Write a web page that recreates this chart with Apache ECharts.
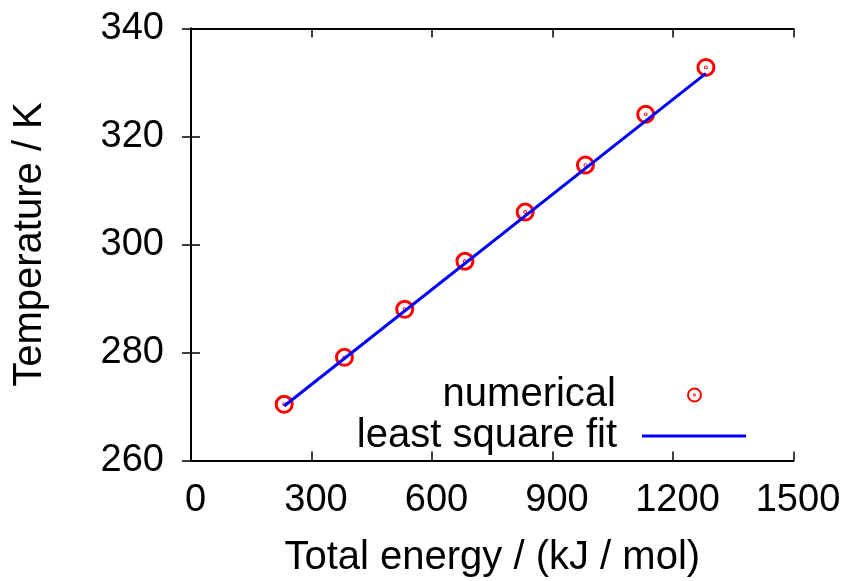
<!DOCTYPE html>
<html>
<head>
<meta charset="utf-8">
<script src="https://cdn.jsdelivr.net/npm/echarts@6/dist/echarts.min.js"></script>
<style>
  html, body { margin: 0; padding: 0; background: #fff; }
  #chart { width: 846px; height: 581px; }
</style>
</head>
<body>
<div id="chart"></div>
<script>
// Total energy (kJ/mol) and resulting temperature (K)
const energy = [232, 382, 532, 682, 832, 982, 1132, 1282];
const temperature = [270.4, 279.1, 288.0, 296.9, 306.0, 314.7, 324.1, 332.8];

// End points of the least square fit line
const fitEnergy = [232, 1282];
const fitTemperature = [270.1, 331.7];

const xTicks = { min: 0, max: 1500, interval: 300 };
const yTicks = { min: 260, max: 340, interval: 20 };

const FONT = 'Liberation Sans, Arial, Helvetica, sans-serif';
const TICK_SIZE = 38;
const TEXT_SIZE = 40;

// open circle with a centre dot
const ringDot = 'path://M20,10A10,10,0,1,1,0,10A10,10,0,1,1,20,10ZM10.6,10A0.6,0.6,0,1,1,9.4,10A0.6,0.6,0,1,1,10.6,10Z';

const pointData = energy.map((e, i) => [e, temperature[i]]);
const fitData = fitEnergy.map((e, i) => [e, fitTemperature[i]]);

const frameLine = { show: true, lineStyle: { color: '#000', width: 2 } };
const innerTick = { show: true, inside: true, length: 9, lineStyle: { color: '#000', width: 1.5 } };
const plainNumber = v => String(v);

const chart = echarts.init(document.getElementById('chart'), null, { renderer: 'canvas' });

chart.setOption({
  animation: false,
  backgroundColor: '#fff',
  textStyle: { fontFamily: FONT },
  grid: {
    left: 191, right: 52.5, top: 28.5, bottom: 120.5,
    containLabel: false, outerBoundsMode: 'none'
  },
  xAxis: [
    {
      type: 'value', position: 'bottom',
      min: xTicks.min, max: xTicks.max, interval: xTicks.interval,
      name: 'Total energy / (kJ / mol)', nameLocation: 'middle', nameGap: 77,
      nameTextStyle: { fontFamily: FONT, fontSize: TEXT_SIZE, color: '#000' },
      axisLine: frameLine, axisTick: innerTick, splitLine: { show: false },
      axisLabel: {
        fontFamily: FONT, fontSize: TICK_SIZE, color: '#000', margin: 21,
        padding: [0, 0, 0, 9], formatter: plainNumber
      }
    },
    {
      type: 'value', position: 'top',
      min: xTicks.min, max: xTicks.max, interval: xTicks.interval,
      axisLine: frameLine, axisTick: innerTick, splitLine: { show: false },
      axisLabel: { show: false }
    }
  ],
  yAxis: [
    {
      type: 'value', position: 'left',
      min: yTicks.min, max: yTicks.max, interval: yTicks.interval,
      name: 'Temperature / K', nameLocation: 'middle', nameGap: 141,
      nameTextStyle: { fontFamily: FONT, fontSize: TEXT_SIZE, color: '#000' },
      axisLine: frameLine, axisTick: innerTick, splitLine: { show: false },
      axisLabel: { fontFamily: FONT, fontSize: TICK_SIZE, color: '#000', margin: 27, formatter: plainNumber }
    },
    {
      type: 'value', position: 'right',
      min: yTicks.min, max: yTicks.max, interval: yTicks.interval,
      axisLine: frameLine, axisTick: innerTick, splitLine: { show: false },
      axisLabel: { show: false }
    }
  ],
  legend: [
    {
      data: ['numerical'], orient: 'vertical', align: 'right',
      right: 144, top: 375, padding: 0,
      itemWidth: 105, itemHeight: 13,
      textStyle: { fontFamily: FONT, fontSize: TEXT_SIZE, color: '#000', padding: [0, 21, 0, 0] }
    },
    {
      data: [{ name: 'least square fit', icon: 'rect' }], orient: 'vertical', align: 'right',
      right: 100, top: 416, padding: 0,
      itemWidth: 104, itemHeight: 3,
      textStyle: { fontFamily: FONT, fontSize: TEXT_SIZE, color: '#000', padding: [0, 20, 0, 0] }
    }
  ],
  series: [
    {
      name: 'numerical', type: 'scatter',
      data: pointData,
      symbol: ringDot, symbolSize: 16, symbolKeepAspect: true,
      itemStyle: { color: 'rgba(0,0,0,0)', borderColor: '#ff0000', borderWidth: 3, opacity: 1 },
      emphasis: { disabled: true }
    },
    {
      name: 'least square fit', type: 'line',
      data: fitData,
      symbol: 'none',
      lineStyle: { color: '#0000ff', width: 3 },
      itemStyle: { color: '#0000ff' },
      emphasis: { disabled: true }
    }
  ]
});
</script>
</body>
</html>
